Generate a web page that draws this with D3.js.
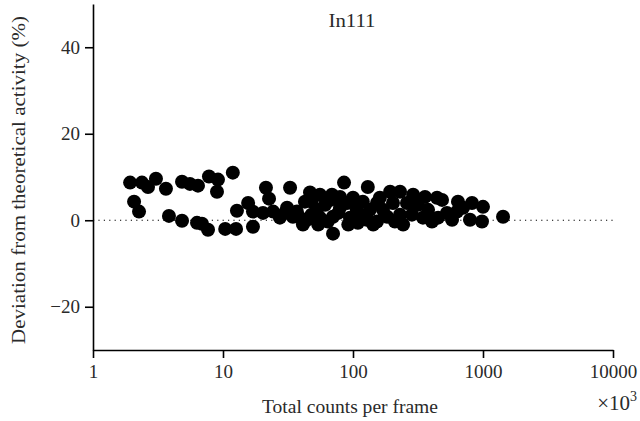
<!DOCTYPE html>
<html>
<head>
<meta charset="utf-8">
<script src="https://cdn.jsdelivr.net/npm/d3@7"></script>
<style>
  body { margin: 0; background: #fff; }
  svg { display: block; }
  text { font-family: "Liberation Serif", "DejaVu Serif", serif; fill: #2a2a2a; }
</style>
</head>
<body>
<svg id="chart" width="640" height="421"></svg>
<script>
// total counts per frame (x10^3)
var counts = [1.93, 2.38, 2.65, 3.05, 3.64, 2.07, 2.26, 3.84, 4.84, 6.31,
  6.89, 7.67, 10.4, 12.6, 17.0, 4.84, 5.57, 6.42, 7.8, 9.15,
  8.99, 11.9, 12.8, 15.6, 21.4, 22.6, 17.0, 20.3, 24.3, 27.4,
  31.1, 32.8, 34.5, 41.2, 42.7, 44.3, 46.7, 52.8, 55.7, 55.7,
  68.9, 70.2, 70.2, 79.4, 79.4, 85.3, 94.8, 100, 107, 119,
  128, 130, 143, 153, 153, 183, 193, 203, 230, 230,
  243, 260, 290, 345, 358, 378, 443, 451, 484, 528,
  578, 631, 642, 794, 823, 982, 1000, 1426, 37, 48,
  61, 64, 77, 90, 113, 135, 170, 210, 284, 316,
  405, 702, 48, 67, 39, 30, 109, 161, 54, 92];
// deviation from theoretical activity (%)
var deviation = [8.7, 8.7, 7.7, 9.6, 7.3, 4.3, 2.0, 1.0, -0.1, -0.6,
  -0.8, -2.2, -2.0, -2.0, -1.5, 8.9, 8.4, 8.0, 10.1, 9.4,
  6.6, 11.0, 2.2, 4.0, 7.5, 5.0, 2.0, 1.7, 2.0, 0.6,
  2.9, 7.5, 0.8, -1.0, 4.3, 0.1, 6.4, 2.4, 5.9, 0.6,
  5.9, 0.8, -3.1, 5.4, 2.9, 8.7, 0.6, 5.2, 2.4, 4.3,
  0.1, 7.7, -1.0, 4.0, -0.3, 0.8, 6.6, 4.0, 6.6, 1.3,
  -1.0, 4.0, 5.9, 0.6, 5.4, 2.4, 5.2, 0.6, 4.7, 1.7,
  0.1, 2.0, 4.3, 0.1, 4.0, -0.3, 3.1, 0.8, 2.0, 1.3,
  3.6, -0.3, 1.7, 4.0, 1.3, 2.4, 2.4, -0.3, 1.3, 3.6,
  -0.3, 2.9, 4.3, 4.7, 0.6, 1.7, -0.6, 5.2, -1.0, -1.0];

var xTicks = [1, 10, 100, 1000, 10000];
var yTicks = [-20, 0, 20, 40];

var svg = d3.select("#chart");

var x = d3.scaleLog().domain([1, 10000]).range([93, 613]);
var y = d3.scaleLinear().domain([-30, 50]).range([350, 4]);

// dotted reference line at zero
svg.append("line")
  .attr("x1", x(1)).attr("x2", x(10000))
  .attr("y1", y(0)).attr("y2", y(0))
  .attr("stroke", "#000").attr("stroke-width", 1.2)
  .attr("stroke-dasharray", "1.2,4.2");

var xAxis = svg.append("g")
  .attr("transform", "translate(0," + y(-30) + ")")
  .call(d3.axisBottom(x).tickValues(xTicks).tickFormat(d3.format("d"))
    .tickSize(8).tickSizeOuter(0).tickPadding(7));

var yAxis = svg.append("g")
  .attr("transform", "translate(" + x(1) + ",0)")
  .call(d3.axisLeft(y).tickValues(yTicks)
    .tickFormat(function(d) { return d < 0 ? "\u2212" + Math.abs(d) : d; })
    .tickSize(8).tickSizeOuter(0).tickPadding(5));

[xAxis, yAxis].forEach(function(g) {
  g.select(".domain").attr("stroke", "#000").attr("stroke-width", 1.6);
  g.selectAll(".tick line").attr("stroke", "#000").attr("stroke-width", 1.6);
  g.selectAll(".tick text")
    .style("font-family", "'Liberation Serif', serif")
    .style("font-size", "19px").attr("fill", "#2a2a2a");
});

// points
svg.append("g").selectAll("circle")
  .data(counts)
  .join("circle")
  .attr("cx", function(d) { return x(d); })
  .attr("cy", function(d, i) { return y(deviation[i]); })
  .attr("r", 7)
  .attr("fill", "#000");

svg.append("text")
  .attr("x", 352).attr("y", 27)
  .attr("text-anchor", "middle")
  .attr("textLength", 47).attr("lengthAdjust", "spacingAndGlyphs")
  .style("font-size", "19px")
  .text("In111");

svg.append("text")
  .attr("transform", "translate(25,180) rotate(-90)")
  .attr("text-anchor", "middle")
  .attr("textLength", 328).attr("lengthAdjust", "spacingAndGlyphs")
  .style("font-size", "19.5px")
  .text("Deviation from theoretical activity (%)");

svg.append("text")
  .attr("x", 350).attr("y", 413)
  .attr("text-anchor", "middle")
  .attr("textLength", 176).attr("lengthAdjust", "spacingAndGlyphs")
  .style("font-size", "19.5px")
  .text("Total counts per frame");

var mult = svg.append("text")
  .attr("x", 637).attr("y", 410)
  .attr("text-anchor", "end")
  .style("font-size", "21px");
mult.append("tspan").text("\u00d710");
mult.append("tspan").attr("dy", -9).style("font-size", "14px").text("3");
</script>
</body>
</html>
